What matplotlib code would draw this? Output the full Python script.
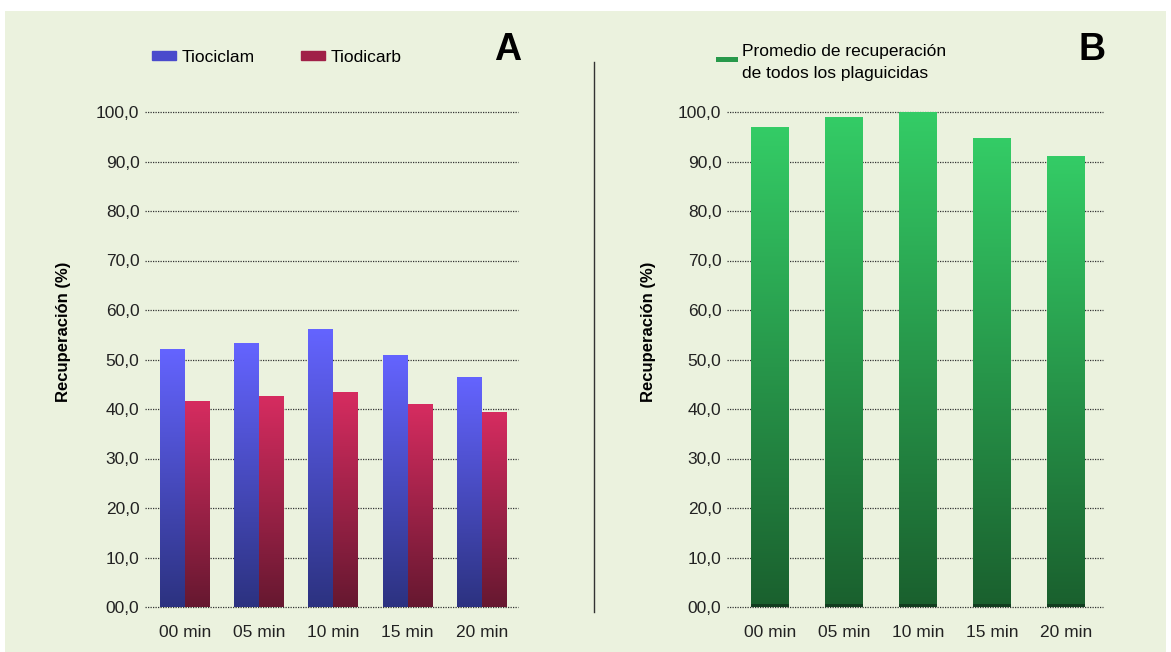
import matplotlib
matplotlib.use("Agg")
import matplotlib.pyplot as plt
import numpy as np
from matplotlib.patches import Rectangle, Patch
from matplotlib.colors import LinearSegmentedColormap

plt.rcParams['font.family'] = ['Liberation Sans', 'DejaVu Sans']

# data
tiempos = ["00 min", "05 min", "10 min", "15 min", "20 min"]
tiociclam = [52.0, 53.2, 56.0, 50.8, 46.4]
tiodicarb = [41.5, 42.5, 43.4, 41.0, 39.3]
promedio = [96.8, 98.9, 100.0, 94.6, 91.1]
yticks = [0, 10, 20, 30, 40, 50, 60, 70, 80, 90, 100]
ytick_labels = ["00,0", "10,0", "20,0", "30,0", "40,0", "50,0", "60,0", "70,0", "80,0", "90,0", "100,0"]

BG = "#ebf2de"
cmap_blue = LinearSegmentedColormap.from_list("b", ["#2c3280", "#6464ff"])
cmap_red = LinearSegmentedColormap.from_list("r", ["#661830", "#d62c60"])
cmap_green = LinearSegmentedColormap.from_list("g", ["#1a602e", "#34cc66"])

W, H = 1171, 652
fig = plt.figure(figsize=(W / 100, H / 100), dpi=100, facecolor="white")
fig.patches.append(Rectangle((5 / W, 0), 1161 / W, 641 / H, transform=fig.transFigure,
                             facecolor=BG, edgecolor="none", zorder=-10))

grad = np.linspace(0, 1, 256).reshape(-1, 1)


def gradient_bars(ax, bars, cmap, dark_base=False):
    for rect in bars:
        x0 = rect.get_x()
        w = rect.get_width()
        h = rect.get_height()
        rect.set_visible(False)
        ax.imshow(grad, cmap=cmap, origin="lower", aspect="auto",
                  extent=(x0, x0 + w, 0, h), zorder=3)
        if dark_base:
            ax.add_patch(Rectangle((x0, 0), w, 0.7, facecolor="#123d1f",
                                   edgecolor="none", zorder=4))


def style_axes(ax, xlim, label_x):
    ax.set_facecolor("none")
    for s in ax.spines.values():
        s.set_visible(False)
    ax.set_ylim(0, 100)
    ax.set_xlim(*xlim)
    ax.set_yticks(yticks)
    ax.set_yticklabels(ytick_labels, fontsize=12.5, color="#222222")
    ax.set_xticks(range(len(tiempos)))
    ax.set_xticklabels(tiempos, fontsize=12.5, color="#222222")
    ax.tick_params(length=0, pad=4)
    ax.tick_params(axis="x", pad=13)
    for t in yticks:
        ax.axhline(t, color="#333333", linestyle=(0, (1, 1)), linewidth=0.9,
                   zorder=1, clip_on=False)
    ax.set_ylabel("Recuperación (%)", fontsize=12, fontweight="bold")
    ax.yaxis.set_label_coords(label_x, 0.556)


# panel A
axA = fig.add_axes([145 / W, 45 / H, 373 / W, 495 / H])
x = np.arange(len(tiempos))
bw = 0.337
b1 = axA.bar(x - bw / 2, tiociclam, width=bw, color="#4a4acc")
b2 = axA.bar(x + bw / 2, tiodicarb, width=bw, color="#a02048")
gradient_bars(axA, b1, cmap_blue)
gradient_bars(axA, b2, cmap_red)
style_axes(axA, (-0.54, 4.49), -0.198)
axA.legend([Patch(color="#4a4acc"), Patch(color="#a02048")], ["Tiociclam", "Tiodicarb"],
           ncol=2, loc="center left", bbox_to_anchor=(136 / W, 1 - 57 / H),
           bbox_transform=fig.transFigure, frameon=False, fontsize=12.5,
           handlelength=1.4, handleheight=0.4, columnspacing=2.7, handletextpad=0.3)
fig.text(508 / W, 1 - 50 / H, "A", fontsize=27, fontweight="bold",
         ha="center", va="center")

# panel B
axB = fig.add_axes([727 / W, 45 / H, 376 / W, 495 / H])
b3 = axB.bar(x, promedio, width=0.51, color="#27994a")
gradient_bars(axB, b3, cmap_green, dark_base=True)
style_axes(axB, (-0.58, 4.5), -0.189)
fig.patches.append(Rectangle((716 / W, 1 - 62 / H), 22 / W, 5 / H, transform=fig.transFigure,
                             facecolor="#27994a", edgecolor="none"))
fig.text(742 / W, 1 - 44 / H, "Promedio de recuperación\nde todos los plaguicidas",
         fontsize=12.5, ha="left", va="top", linespacing=1.6)
fig.text(1092 / W, 1 - 50 / H, "B", fontsize=27, fontweight="bold",
         ha="center", va="center")

# separator
fig.add_artist(plt.Line2D([594 / W, 594 / W], [1 - 62 / H, 1 - 612 / H],
                          transform=fig.transFigure, color="#333333", linewidth=1))

fig.savefig("out.png", dpi=100, facecolor="white")
